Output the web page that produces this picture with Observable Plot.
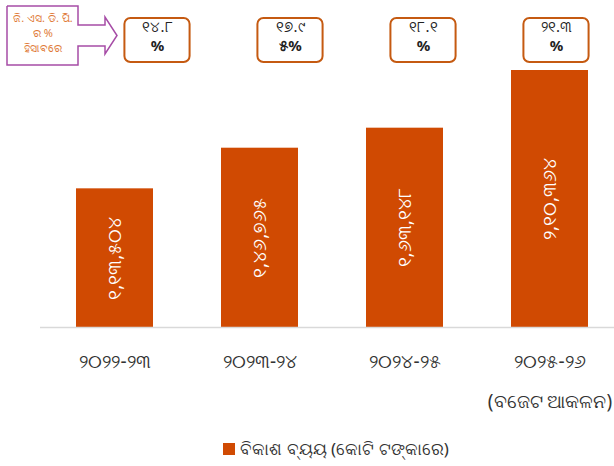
<!DOCTYPE html>
<html>
<head>
<meta charset="utf-8">
<script src="https://cdn.jsdelivr.net/npm/d3@7"></script>
<script src="https://cdn.jsdelivr.net/npm/@observablehq/plot@0.6"></script>
<style>
  html, body { margin: 0; padding: 0; background: #fff; }
  body { font-family: "Noto Sans", "DejaVu Sans", sans-serif; }
  #wrap { position: relative; width: 614px; }
  #strip { position: absolute; top: 0; left: 0; }
  #main svg { display: block; }
  #legend { display: flex; justify-content: center; align-items: center; gap: 5px;
            margin-top: 12px; padding-left: 58px; font-size: 17px; color: #333; }
  #legend .sw { width: 12px; height: 12px; background: #d04a02; display: inline-block; }
</style>
</head>
<body>
<div id="wrap">
  <div id="main"></div>
  <div id="strip"></div>
  <div id="legend"><span class="sw"></span><span id="legtext"></span></div>
</div>
<script>
// ---- data ----
const categories = ["୨୦୨୨-୨୩", "୨୦୨୩-୨୪", "୨୦୨୪-୨୫", "୨୦୨୫-୨୬\n(ବଜେଟ ଆକଳନ)"];
const values = [113504, 146765, 163148, 210364];           // ବିକାଶ ବ୍ୟୟ (କୋଟି ଟଙ୍କା)
const valueLabels = ["୧,୧୩,୫୦୪", "୧,୪୬,୭୬୫", "୧,୬୩,୧୪୮", "୨,୧୦,୩୬୪"];
const gsdpPct = [14.8, 17.95, 18.1, 21.3];
const pctLine1 = ["୧୪.୮", "୧୭.୯", "୧୮.୧", "୨୧.୩"];
const pctLine2 = ["%", "୫%", "%", "%"];
const calloutLines = ["ଜି. ଏସ. ଡି. ପି.", "ର %", "ହିସାବରେ"];
const seriesName = "ବିକାଶ ବ୍ୟୟ (କୋଟି ଟଙ୍କାରେ)";

const barColor = "#d04a02";
const data = categories.map((c, i) => ({cat: c, value: values[i], label: valueLabels[i]}));
const pct = gsdpPct.map((p, i) => ({i, p, l1: pctLine1[i], l2: pctLine2[i]}));

// ---- main bar chart ----
const main = Plot.plot({
  width: 614, height: 425,
  marginTop: 70, marginBottom: 98, marginLeft: 61, marginRight: 11,
  style: {fontFamily: "'Noto Sans', 'DejaVu Sans', sans-serif", background: "white"},
  x: {domain: categories, paddingInner: 0.47, paddingOuter: 0.1, label: null},
  y: {domain: [0, d3.max(values)], axis: null},
  marks: [
    Plot.barY(data, {x: "cat", y: "value", fill: barColor}),
    Plot.ruleY([0], {stroke: "#d9d9d9", strokeWidth: 1.5, insetLeft: -21, insetRight: -11}),
    Plot.text(data, {x: "cat", y: d => d.value / 2, text: "label", rotate: -90,
                     fill: "white", fontSize: 19}),
    Plot.axisX({tickSize: 0, tickPadding: 11, fontSize: 19, lineHeight: 2.15,
                fill: "#333", label: null})
  ]
});
document.getElementById("main").appendChild(main);

// ---- GSDP % boxes strip with the callout arrow ----
const arrowShape = [[7,6],[78,6],[78,25],[105,25],[105,17],[117,35.5],[105,54],[105,46],[78,46],[78,65],[7,65],[7,6]];
const strip = Plot.plot({
  width: 614, height: 72,
  marginLeft: 157, marginRight: 58, marginTop: 18, marginBottom: 10,
  style: {fontFamily: "'Noto Sans', 'DejaVu Sans', sans-serif", background: "transparent"},
  x: {domain: [0, categories.length - 1], axis: null},
  y: {domain: [0, 1], axis: null},
  marks: [
    Plot.rect(pct, {x1: d => d.i - 0.245, x2: d => d.i + 0.245, y1: 0, y2: 1,
                    rx: 6, fill: "white", stroke: "#c55a11", strokeWidth: 2}),
    Plot.text(pct, {x: "i", y: 0.8, text: "l1", fontSize: 15, fill: "#222"}),
    Plot.text(pct, {x: "i", y: 0.37, text: "l2", fontSize: 15, fontWeight: "bold", fill: "#222"}),
    // callout drawn in pixel space inside the same svg
    () => {
      const g = d3.create("svg:g");
      g.append("path")
        .attr("d", d3.line()(arrowShape))
        .attr("fill", "none").attr("stroke", "#a64ca6").attr("stroke-width", 1.5);
      g.append("text")
        .attr("fill", "#e07b39").attr("font-size", 11).attr("text-anchor", "middle")
        .selectAll("tspan").data(calloutLines).join("tspan")
        .attr("x", 43).attr("y", (d, i) => 22 + i * 15).text(d => d);
      return g.node();
    }
  ]
});
document.getElementById("strip").appendChild(strip);

document.getElementById("legtext").textContent = seriesName;
</script>
</body>
</html>
